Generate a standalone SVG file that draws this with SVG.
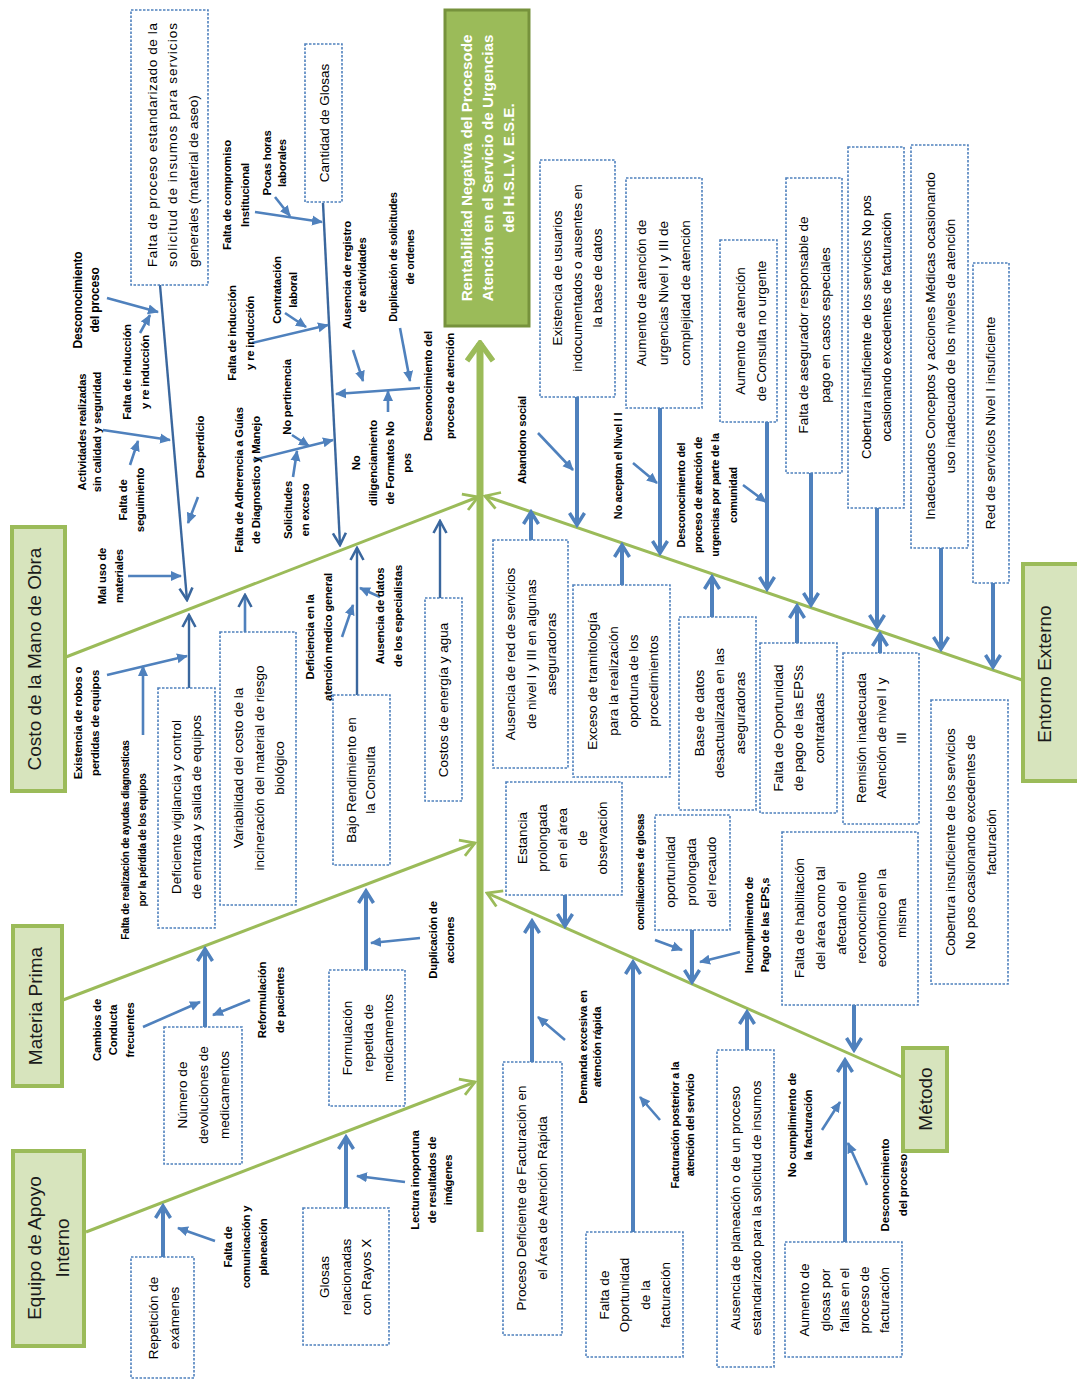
<svg xmlns="http://www.w3.org/2000/svg" width="1077" height="1379" viewBox="0 0 1077 1379">
<style>
text{font-family:"Liberation Sans",Arial,sans-serif;text-anchor:middle;fill:#000}
.bx{font-size:13.5px}
.lb{font-size:11.3px;font-weight:bold;letter-spacing:-0.2px}
.cat{font-size:19px;fill:#1a1a1a}
.hd{font-size:15.2px;font-weight:bold;fill:#fff}
.box{fill:#fff;stroke:#4f81bd;stroke-width:1.6;stroke-dasharray:2.5 1.5}
.cbox{fill:#d7e4bd;stroke:#9bbb59;stroke-width:4}
.gl{stroke:#9bbb59;stroke-width:3;fill:none}
.cn{stroke:#4f81bd;stroke-width:4;fill:none}
.ar{stroke:#4f81bd;stroke-width:2.6;fill:none}
.dk{stroke:#3a679e;stroke-width:2.4;fill:none}
</style>
<defs>
<marker id="cv" viewBox="0 0 18 18" refX="15" refY="9" markerWidth="18" markerHeight="18" orient="auto" markerUnits="userSpaceOnUse"><path d="M3,1.5 L15,9 L3,16.5" fill="none" stroke="#4f81bd" stroke-width="3.5"/></marker>
<marker id="cd" viewBox="0 0 16 16" refX="14" refY="8" markerWidth="16" markerHeight="16" orient="auto" markerUnits="userSpaceOnUse"><path d="M2,1.5 L14,8 L2,14.5" fill="none" stroke="#3a679e" stroke-width="2.6"/></marker>
<marker id="tr" viewBox="0 0 11 11" refX="10" refY="5.5" markerWidth="11" markerHeight="11" orient="auto" markerUnits="userSpaceOnUse"><path d="M0,0.5 L11,5.5 L0,10.5 Z" fill="#4f81bd"/></marker>
<marker id="cg" viewBox="0 0 18 20" refX="16" refY="10" markerWidth="18" markerHeight="20" orient="auto" markerUnits="userSpaceOnUse"><path d="M2,1.5 L16,10 L2,18.5" fill="none" stroke="#9bbb59" stroke-width="2.8"/></marker>
<marker id="cgs" viewBox="0 0 24 30" refX="21" refY="15" markerWidth="24" markerHeight="30" orient="auto" markerUnits="userSpaceOnUse"><path d="M3,2 L21,15 L3,28" fill="none" stroke="#9bbb59" stroke-width="5.5"/></marker>
</defs>
<rect width="1077" height="1379" fill="#fff"/>

<g id="connectors">
<line x1="480" y1="1232" x2="480" y2="343" stroke="#9bbb59" stroke-width="7" marker-end="url(#cgs)"/>
<line class="gl" x1="66" y1="657" x2="478" y2="497" marker-end="url(#cg)"/>
<line class="gl" x1="63" y1="1000" x2="475" y2="843" marker-end="url(#cg)"/>
<line class="gl" x1="86" y1="1232" x2="475" y2="1082" marker-end="url(#cg)"/>
<line class="gl" x1="1022" y1="680" x2="485" y2="496" marker-end="url(#cg)"/>
<line class="gl" x1="902" y1="1077" x2="487" y2="893" marker-end="url(#cg)"/>

<line class="dk" x1="160" y1="285" x2="187" y2="600" marker-end="url(#cd)"/>
<line class="ar" x1="107" y1="298" x2="158" y2="312" marker-end="url(#tr)"/>
<line class="ar" x1="140" y1="333" x2="150" y2="315" marker-end="url(#tr)"/>
<line class="ar" x1="103" y1="430" x2="170" y2="440" marker-end="url(#tr)"/>
<line class="ar" x1="130" y1="465" x2="138" y2="441" marker-end="url(#tr)"/>
<line class="ar" x1="198" y1="497" x2="188" y2="523" marker-end="url(#tr)"/>
<line class="ar" x1="128" y1="576" x2="181" y2="576" marker-end="url(#tr)"/>
<line class="ar" x1="107" y1="675" x2="187" y2="656" marker-end="url(#tr)"/>
<line class="ar" x1="143" y1="735" x2="143" y2="666" marker-end="url(#tr)"/>
<line class="dk" x1="189" y1="688" x2="189" y2="615" marker-end="url(#cd)"/>
<line class="ar" x1="245" y1="632" x2="245" y2="595" marker-end="url(#cd)" stroke-width="3"/>
<line class="dk" x1="323" y1="203" x2="340" y2="545" marker-end="url(#cd)"/>
<line class="ar" x1="255" y1="212" x2="322" y2="222" marker-end="url(#tr)"/>
<line class="ar" x1="275" y1="197" x2="290" y2="216" marker-end="url(#tr)"/>
<line class="ar" x1="252" y1="343" x2="328" y2="325" marker-end="url(#tr)"/>
<line class="ar" x1="285" y1="313" x2="306" y2="327" marker-end="url(#tr)"/>
<line class="ar" x1="292" y1="435" x2="309" y2="446" marker-end="url(#tr)"/>
<line class="ar" x1="253" y1="460" x2="333" y2="440" marker-end="url(#tr)"/>
<line class="ar" x1="293" y1="477" x2="297" y2="451" marker-end="url(#tr)"/>
<line class="ar" x1="420" y1="388" x2="336" y2="394" marker-end="url(#tr)"/>
<line class="ar" x1="353" y1="350" x2="363" y2="381" marker-end="url(#tr)"/>
<line class="ar" x1="400" y1="328" x2="410" y2="381" marker-end="url(#tr)"/>
<line class="ar" x1="388" y1="412" x2="388" y2="391" marker-end="url(#tr)"/>
<line class="dk" x1="357" y1="695" x2="357" y2="548" marker-end="url(#cd)" stroke-width="3"/>
<line class="ar" x1="380" y1="597" x2="360" y2="588" marker-end="url(#tr)"/>
<line class="ar" x1="342" y1="637" x2="353" y2="605" marker-end="url(#tr)"/>
<line class="dk" x1="440" y1="598" x2="440" y2="521" marker-end="url(#cd)" stroke-width="3"/>

<line class="cn" x1="577" y1="397" x2="577" y2="525" marker-end="url(#cv)"/>
<line class="cn" x1="660" y1="408" x2="660" y2="553" marker-end="url(#cv)"/>
<line class="cn" x1="767" y1="422" x2="767" y2="589" marker-end="url(#cv)"/>
<line class="cn" x1="811" y1="473" x2="811" y2="605" marker-end="url(#cv)"/>
<line class="cn" x1="877" y1="508" x2="877" y2="627" marker-end="url(#cv)"/>
<line class="cn" x1="941" y1="548" x2="941" y2="649" marker-end="url(#cv)"/>
<line class="cn" x1="993" y1="583" x2="993" y2="667" marker-end="url(#cv)"/>
<line class="ar" x1="538" y1="433" x2="573" y2="470" marker-end="url(#tr)"/>
<line class="ar" x1="633" y1="463" x2="657" y2="483" marker-end="url(#tr)"/>
<line class="ar" x1="743" y1="485" x2="766" y2="502" marker-end="url(#tr)"/>
<line class="cn" x1="531" y1="540" x2="531" y2="512" marker-end="url(#cv)"/>
<line class="cn" x1="622" y1="585" x2="622" y2="545" marker-end="url(#cv)"/>
<line class="cn" x1="712" y1="617" x2="712" y2="577" marker-end="url(#cv)"/>
<line class="cn" x1="797" y1="643" x2="797" y2="606" marker-end="url(#cv)"/>
<line class="cn" x1="880" y1="653" x2="880" y2="634" marker-end="url(#cv)"/>

<line class="cn" x1="205" y1="1027" x2="205" y2="949" marker-end="url(#cv)"/>
<line class="ar" x1="143" y1="1027" x2="200" y2="1002" marker-end="url(#tr)"/>
<line class="ar" x1="250" y1="1000" x2="213" y2="1015" marker-end="url(#tr)"/>
<line class="cn" x1="366" y1="970" x2="366" y2="891" marker-end="url(#cv)"/>
<line class="ar" x1="420" y1="938" x2="371" y2="943" marker-end="url(#tr)"/>

<line class="cn" x1="163" y1="1257" x2="163" y2="1206" marker-end="url(#cv)"/>
<line class="ar" x1="215" y1="1241" x2="178" y2="1228" marker-end="url(#tr)"/>
<line class="cn" x1="346" y1="1208" x2="346" y2="1137" marker-end="url(#cv)"/>
<line class="ar" x1="405" y1="1182" x2="357" y2="1176" marker-end="url(#tr)"/>

<line class="cn" x1="532" y1="1062" x2="532" y2="921" marker-end="url(#cv)"/>
<line class="ar" x1="565" y1="1040" x2="538" y2="1017" marker-end="url(#tr)"/>
<line class="cn" x1="633" y1="1232" x2="633" y2="962" marker-end="url(#cv)"/>
<line class="ar" x1="660" y1="1120" x2="640" y2="1097" marker-end="url(#tr)"/>
<line class="cn" x1="565" y1="895" x2="565" y2="926" marker-end="url(#cv)"/>
<line class="ar" x1="655" y1="940" x2="682" y2="950" marker-end="url(#tr)"/>
<line class="cn" x1="692" y1="930" x2="692" y2="982" marker-end="url(#cv)"/>
<line class="ar" x1="740" y1="952" x2="700" y2="962" marker-end="url(#tr)"/>
<line class="cn" x1="747" y1="1050" x2="747" y2="1012" marker-end="url(#cv)"/>
<line class="cn" x1="854" y1="1005" x2="854" y2="1050" marker-end="url(#cv)"/>
<line class="cn" x1="845" y1="1242" x2="845" y2="1060" marker-end="url(#cv)"/>
<line class="ar" x1="822" y1="1130" x2="840" y2="1102" marker-end="url(#tr)"/>
<line class="ar" x1="867" y1="1185" x2="848" y2="1143" marker-end="url(#tr)"/>
</g>

<g id="head">
<rect x="445" y="10" width="84" height="316" fill="#9bbb59" stroke="#76923c" stroke-width="3"/>
<text class="hd" transform="translate(0,168) rotate(-90)"><tspan x="0" y="472">Rentabilidad Negativa del Procesode</tspan><tspan x="0" y="493">Atención en el Servicio de Urgencias</tspan><tspan x="0" y="514">del H.S.L.V. E.S.E.</tspan></text>
</g>

<g id="cat-costo"><rect class="cbox" x="12" y="527" width="53" height="264"/><text class="cat" transform="translate(0,659) rotate(-90)"><tspan x="0" y="41">Costo de la Mano de Obra</tspan></text></g>
<g id="cat-materia"><rect class="cbox" x="13" y="926" width="49" height="160"/><text class="cat" transform="translate(0,1006) rotate(-90)"><tspan x="0" y="42">Materia Prima</tspan></text></g>
<g id="cat-equipo"><rect class="cbox" x="13" y="1151" width="71" height="195"/><text class="cat" transform="translate(0,1248) rotate(-90)"><tspan x="0" y="41">Equipo de Apoyo</tspan><tspan x="0" y="69">Interno</tspan></text></g>
<g id="cat-entorno"><rect class="cbox" x="1023" y="564" width="56" height="217"/><text class="cat" transform="translate(0,674) rotate(-90)"><tspan x="0" y="1051">Entorno Externo</tspan></text></g>
<g id="cat-metodo"><rect class="cbox" x="903" y="1048" width="44" height="103"/><text class="cat" transform="translate(0,1099) rotate(-90)"><tspan x="0" y="932">Método</tspan></text></g>

<g id="n-falta-proceso"><rect class="box" x="131" y="10" width="77" height="275"/><text class="bx" style="text-anchor:start" transform="translate(0,267) rotate(-90)"><tspan x="0" y="157" textLength="244" lengthAdjust="spacing">Falta de proceso estandarizado de la</tspan><tspan x="0" y="177" textLength="244" lengthAdjust="spacing">solicitud de insumos para servicios</tspan><tspan x="0" y="198">generales (material de aseo)</tspan></text></g>
<g id="n-cantidad-glosas"><rect class="box" x="305" y="44" width="37" height="158"/><text class="bx" transform="translate(0,123) rotate(-90)"><tspan x="0" y="329">Cantidad de Glosas</tspan></text></g>
<g id="n-deficiente"><rect class="box" x="158" y="688" width="57" height="240"/><text class="bx" transform="translate(0,807) rotate(-90)"><tspan x="0" y="181">Deficiente vigilancia y control</tspan><tspan x="0" y="201">de entrada y salida de equipos</tspan></text></g>
<g id="n-variabilidad"><rect class="box" x="220" y="632" width="76" height="273"/><text class="bx" transform="translate(0,768) rotate(-90)"><tspan x="0" y="243">Variabilidad del costo de la</tspan><tspan x="0" y="264">incineración del material de riesgo</tspan><tspan x="0" y="284">biológico</tspan></text></g>
<g id="n-bajo"><rect class="box" x="333" y="695" width="57" height="170"/><text class="bx" transform="translate(0,780) rotate(-90)"><tspan x="0" y="356">Bajo Rendimiento en</tspan><tspan x="0" y="375">la Consulta</tspan></text></g>
<g id="n-costos"><rect class="box" x="425" y="598" width="37" height="203"/><text class="bx" transform="translate(0,700) rotate(-90)"><tspan x="0" y="448">Costos de energía y agua</tspan></text></g>

<g id="l-desc1"><text class="lb" style="font-size:12px" transform="translate(0,300) rotate(-90)"><tspan x="0" y="82">Desconocimiento</tspan><tspan x="0" y="99">del proceso</tspan></text></g>
<g id="l-induc1"><text class="lb" transform="translate(0,372) rotate(-90)"><tspan x="0" y="131">Falta de inducción</tspan><tspan x="0" y="149">y re inducción</tspan></text></g>
<g id="l-activ"><text class="lb" transform="translate(0,432) rotate(-90)"><tspan x="0" y="86">Actividades realizadas</tspan><tspan x="0" y="101">sin calidad y seguridad</tspan></text></g>
<g id="l-seguim"><text class="lb" transform="translate(0,500) rotate(-90)"><tspan x="0" y="127">Falta de</tspan><tspan x="0" y="144">seguimiento</tspan></text></g>
<g id="l-desperd"><text class="lb" transform="translate(0,447) rotate(-90)"><tspan x="0" y="204">Desperdicio</tspan></text></g>
<g id="l-maluso"><text class="lb" transform="translate(0,576) rotate(-90)"><tspan x="0" y="106">Mal uso de</tspan><tspan x="0" y="123">materiales</tspan></text></g>
<g id="l-robos"><text class="lb" transform="translate(0,723) rotate(-90)"><tspan x="0" y="82">Existencia de robos o</tspan><tspan x="0" y="99">perdidas de equipos</tspan></text></g>
<g id="l-ayudas"><text class="lb" style="font-size:10px" transform="translate(0,840) rotate(-90)"><tspan x="0" y="129">Falta de realización de ayudas diagnosticas</tspan><tspan x="0" y="146">por la pérdida de los equipos</tspan></text></g>
<g id="l-compromiso"><text class="lb" transform="translate(0,195) rotate(-90)"><tspan x="0" y="231">Falta de compromiso</tspan><tspan x="0" y="249">Institucional</tspan></text></g>
<g id="l-pocas"><text class="lb" transform="translate(0,163) rotate(-90)"><tspan x="0" y="271">Pocas horas</tspan><tspan x="0" y="286">laborales</tspan></text></g>
<g id="l-induc2"><text class="lb" transform="translate(0,333) rotate(-90)"><tspan x="0" y="236">Falta de inducción</tspan><tspan x="0" y="254">y re inducción</tspan></text></g>
<g id="l-contrat"><text class="lb" transform="translate(0,290) rotate(-90)"><tspan x="0" y="281">Contratación</tspan><tspan x="0" y="297">laboral</tspan></text></g>
<g id="l-pertin"><text class="lb" transform="translate(0,397) rotate(-90)"><tspan x="0" y="291">No pertinencia</tspan></text></g>
<g id="l-adher"><text class="lb" transform="translate(0,480) rotate(-90)"><tspan x="0" y="243">Falta de Adherencia a Guías</tspan><tspan x="0" y="260">de Diagnostico y Manejo</tspan></text></g>
<g id="l-solic"><text class="lb" transform="translate(0,510) rotate(-90)"><tspan x="0" y="292">Solicitudes</tspan><tspan x="0" y="309">en exceso</tspan></text></g>
<g id="l-registro"><text class="lb" transform="translate(0,275) rotate(-90)"><tspan x="0" y="351">Ausencia de registro</tspan><tspan x="0" y="366">de actividades</tspan></text></g>
<g id="l-duplsol"><text class="lb" style="font-size:10.7px" transform="translate(0,257) rotate(-90)"><tspan x="0" y="397">Duplicación de solicitudes</tspan><tspan x="0" y="414">de ordenes</tspan></text></g>
<g id="l-desc-atencion"><text class="lb" transform="translate(0,386) rotate(-90)"><tspan x="0" y="432">Desconocimiento del</tspan><tspan x="0" y="454">proceso de atención</tspan></text></g>
<g id="l-diligen"><text class="lb" transform="translate(0,463) rotate(-90)"><tspan x="0" y="360">No</tspan><tspan x="0" y="377">diligenciamiento</tspan><tspan x="0" y="394">de Formatos No</tspan><tspan x="0" y="411">pos</tspan></text></g>
<g id="l-deficiencia"><text class="lb" transform="translate(0,637) rotate(-90)"><tspan x="0" y="314">Deficiencia en la</tspan><tspan x="0" y="332">atención medico general</tspan></text></g>
<g id="l-especial"><text class="lb" transform="translate(0,616) rotate(-90)"><tspan x="0" y="384">Ausencia de datos</tspan><tspan x="0" y="402">de los especialistas</tspan></text></g>

<g id="n-existencia"><rect class="box" x="540" y="160" width="75" height="237"/><text class="bx" transform="translate(0,278) rotate(-90)"><tspan x="0" y="562">Existencia de usuarios</tspan><tspan x="0" y="582">indocumentados o ausentes en</tspan><tspan x="0" y="602">la base de datos</tspan></text></g>
<g id="n-aumento-urg"><rect class="box" x="626" y="178" width="76" height="230"/><text class="bx" transform="translate(0,293) rotate(-90)"><tspan x="0" y="646">Aumento de atención de</tspan><tspan x="0" y="668">urgencias Nivel I y III de</tspan><tspan x="0" y="690">complejidad de atención</tspan></text></g>
<g id="n-aumento-cons"><rect class="box" x="720" y="240" width="57" height="182"/><text class="bx" transform="translate(0,331) rotate(-90)"><tspan x="0" y="745">Aumento de atención</tspan><tspan x="0" y="766">de Consulta no urgente</tspan></text></g>
<g id="n-asegurador"><rect class="box" x="786" y="178" width="56" height="295"/><text class="bx" transform="translate(0,325) rotate(-90)"><tspan x="0" y="808">Falta de asegurador responsable de</tspan><tspan x="0" y="830">pago en casos especiales</tspan></text></g>
<g id="n-cobertura1"><rect class="box" x="848" y="147" width="56" height="361"/><text class="bx" style="font-size:13px" transform="translate(0,327) rotate(-90)"><tspan x="0" y="871">Cobertura insuficiente de los servicios No pos</tspan><tspan x="0" y="891">ocasionando excedentes de facturación</tspan></text></g>
<g id="n-inadecuados"><rect class="box" x="911" y="145" width="57" height="403"/><text class="bx" transform="translate(0,346) rotate(-90)"><tspan x="0" y="935">Inadecuados Conceptos y acciones Médicas ocasionando</tspan><tspan x="0" y="955">uso inadecuado de los niveles de atención</tspan></text></g>
<g id="n-red"><rect class="box" x="973" y="263" width="36" height="320"/><text class="bx" transform="translate(0,423) rotate(-90)"><tspan x="0" y="995">Red de servicios Nivel I insuficiente</tspan></text></g>
<g id="n-ausencia-red"><rect class="box" x="493" y="540" width="75" height="228"/><text class="bx" transform="translate(0,654) rotate(-90)"><tspan x="0" y="515">Ausencia de red de servicios</tspan><tspan x="0" y="536">de nivel I y III en algunas</tspan><tspan x="0" y="556">aseguradoras</tspan></text></g>
<g id="n-exceso"><rect class="box" x="573" y="585" width="97" height="192"/><text class="bx" transform="translate(0,681) rotate(-90)"><tspan x="0" y="597">Exceso de tramitología</tspan><tspan x="0" y="618">para la realización</tspan><tspan x="0" y="638">oportuna  de los</tspan><tspan x="0" y="658">procedimientos</tspan></text></g>
<g id="n-basedatos"><rect class="box" x="679" y="617" width="77" height="193"/><text class="bx" transform="translate(0,713) rotate(-90)"><tspan x="0" y="704">Base de datos</tspan><tspan x="0" y="724">desactualizada en las</tspan><tspan x="0" y="745">aseguradoras</tspan></text></g>
<g id="n-oport-eps"><rect class="box" x="760" y="643" width="77" height="170"/><text class="bx" transform="translate(0,728) rotate(-90)"><tspan x="0" y="783">Falta de Oportunidad</tspan><tspan x="0" y="803">de pago de las EPSs</tspan><tspan x="0" y="824">contratadas</tspan></text></g>
<g id="n-remision"><rect class="box" x="843" y="653" width="76" height="171"/><text class="bx" transform="translate(0,738) rotate(-90)"><tspan x="0" y="866">Remisión inadecuada</tspan><tspan x="0" y="886">Atención de nivel I y</tspan><tspan x="0" y="906">III</tspan></text></g>
<g id="n-cobertura2"><rect class="box" x="931" y="700" width="77" height="284"/><text class="bx" transform="translate(0,842) rotate(-90)"><tspan x="0" y="955">Cobertura insuficiente de los servicios</tspan><tspan x="0" y="975">No pos ocasionando excedentes de</tspan><tspan x="0" y="996">facturación</tspan></text></g>

<g id="l-abandono"><text class="lb" transform="translate(0,440) rotate(-90)"><tspan x="0" y="526">Abandono social</tspan></text></g>
<g id="l-noaceptan"><text class="lb" style="font-size:10.8px" transform="translate(0,466) rotate(-90)"><tspan x="0" y="622">No aceptan el Nivel I I</tspan></text></g>
<g id="l-desc-comunidad"><text class="lb" style="font-size:10.8px" transform="translate(0,495) rotate(-90)"><tspan x="0" y="685">Desconocimiento del</tspan><tspan x="0" y="702">proceso de atención de</tspan><tspan x="0" y="719">urgencias por parte de la</tspan><tspan x="0" y="737">comunidad</tspan></text></g>

<g id="n-devoluciones"><rect class="box" x="164" y="1027" width="78" height="137"/><text class="bx" transform="translate(0,1095) rotate(-90)"><tspan x="0" y="187">Número de</tspan><tspan x="0" y="208">devoluciones de</tspan><tspan x="0" y="229">medicamentos</tspan></text></g>
<g id="n-formulacion"><rect class="box" x="329" y="970" width="76" height="136"/><text class="bx" transform="translate(0,1038) rotate(-90)"><tspan x="0" y="352">Formulación</tspan><tspan x="0" y="373">repetida de</tspan><tspan x="0" y="393">medicamentos</tspan></text></g>
<g id="l-cambios"><text class="lb" transform="translate(0,1030) rotate(-90)"><tspan x="0" y="101">Cambios de</tspan><tspan x="0" y="117">Conducta</tspan><tspan x="0" y="134">frecuentes</tspan></text></g>
<g id="l-reform"><text class="lb" transform="translate(0,1000) rotate(-90)"><tspan x="0" y="266">Reformulación</tspan><tspan x="0" y="284">de pacientes</tspan></text></g>
<g id="l-duplacc"><text class="lb" transform="translate(0,940) rotate(-90)"><tspan x="0" y="437">Duplicación de</tspan><tspan x="0" y="454">acciones</tspan></text></g>

<g id="n-repeticion"><rect class="box" x="131" y="1257" width="63" height="121"/><text class="bx" transform="translate(0,1318) rotate(-90)"><tspan x="0" y="158">Repetición de</tspan><tspan x="0" y="179">exámenes</tspan></text></g>
<g id="n-glosas-rx"><rect class="box" x="303" y="1208" width="86" height="137"/><text class="bx" transform="translate(0,1277) rotate(-90)"><tspan x="0" y="329">Glosas</tspan><tspan x="0" y="351">relacionadas</tspan><tspan x="0" y="371">con Rayos X</tspan></text></g>
<g id="l-comunic"><text class="lb" transform="translate(0,1247) rotate(-90)"><tspan x="0" y="232">Falta de</tspan><tspan x="0" y="250">comunicación y</tspan><tspan x="0" y="267">planeación</tspan></text></g>
<g id="l-lectura"><text class="lb" transform="translate(0,1180) rotate(-90)"><tspan x="0" y="419">Lectura inoportuna</tspan><tspan x="0" y="436">de resultados de</tspan><tspan x="0" y="452">imágenes</tspan></text></g>

<g id="n-proceso-def"><rect class="box" x="503" y="1062" width="59" height="273"/><text class="bx" transform="translate(0,1198) rotate(-90)"><tspan x="0" y="526">Proceso Deficiente de Facturación en</tspan><tspan x="0" y="547">el Área de Atención Rápida</tspan></text></g>
<g id="n-oport-fact"><rect class="box" x="586" y="1232" width="97" height="125"/><text class="bx" transform="translate(0,1295) rotate(-90)"><tspan x="0" y="609">Falta de</tspan><tspan x="0" y="629">Oportunidad</tspan><tspan x="0" y="650">de la</tspan><tspan x="0" y="670">facturación</tspan></text></g>
<g id="n-estancia"><rect class="box" x="506" y="782" width="116" height="113"/><text class="bx" transform="translate(0,838) rotate(-90)"><tspan x="0" y="527">Estancia</tspan><tspan x="0" y="547">prolongada</tspan><tspan x="0" y="567">en el área</tspan><tspan x="0" y="587">de</tspan><tspan x="0" y="607">observación</tspan></text></g>
<g id="n-recaudo"><rect class="box" x="655" y="815" width="75" height="115"/><text class="bx" transform="translate(0,872) rotate(-90)"><tspan x="0" y="675">oportunidad</tspan><tspan x="0" y="696">prolongada</tspan><tspan x="0" y="716">del recaudo</tspan></text></g>
<g id="n-planeacion"><rect class="box" x="717" y="1050" width="57" height="317"/><text class="bx" transform="translate(0,1208) rotate(-90)"><tspan x="0" y="740">Ausencia de planeación o de un proceso</tspan><tspan x="0" y="761">estandarizado  para la solicitud de insumos</tspan></text></g>
<g id="n-habilitacion"><rect class="box" x="782" y="832" width="136" height="173"/><text class="bx" transform="translate(0,918) rotate(-90)"><tspan x="0" y="804">Falta de habilitación</tspan><tspan x="0" y="825">del área como tal</tspan><tspan x="0" y="846">afectando el</tspan><tspan x="0" y="866">reconocimiento</tspan><tspan x="0" y="886">económico en la</tspan><tspan x="0" y="906">misma</tspan></text></g>
<g id="n-aumento-glosas"><rect class="box" x="785" y="1242" width="117" height="115"/><text class="bx" transform="translate(0,1300) rotate(-90)"><tspan x="0" y="809">Aumento de</tspan><tspan x="0" y="830">glosas por</tspan><tspan x="0" y="849">fallas en el</tspan><tspan x="0" y="869">proceso de</tspan><tspan x="0" y="889">facturación</tspan></text></g>
<g id="l-demanda"><text class="lb" transform="translate(0,1047) rotate(-90)"><tspan x="0" y="587">Demanda excesiva en</tspan><tspan x="0" y="601">atención rápida</tspan></text></g>
<g id="l-fact-post"><text class="lb" style="font-size:10.8px" transform="translate(0,1125) rotate(-90)"><tspan x="0" y="679">Facturación posterior a la</tspan><tspan x="0" y="694">atención del servicio</tspan></text></g>
<g id="l-concil"><text class="lb" style="font-size:10.3px" transform="translate(0,872) rotate(-90)"><tspan x="0" y="644">conciliaciones de glosas</tspan></text></g>
<g id="l-incumpl"><text class="lb" transform="translate(0,925) rotate(-90)"><tspan x="0" y="753">Incumplimiento de</tspan><tspan x="0" y="769">Pago de las EPS,s</tspan></text></g>
<g id="l-nocumpl"><text class="lb" transform="translate(0,1125) rotate(-90)"><tspan x="0" y="796">No cumplimiento de</tspan><tspan x="0" y="812">la facturación</tspan></text></g>
<g id="l-desc-metodo"><text class="lb" style="font-size:11.5px" transform="translate(0,1185) rotate(-90)"><tspan x="0" y="889">Desconocimiento</tspan><tspan x="0" y="907">del proceso</tspan></text></g>
</svg>
